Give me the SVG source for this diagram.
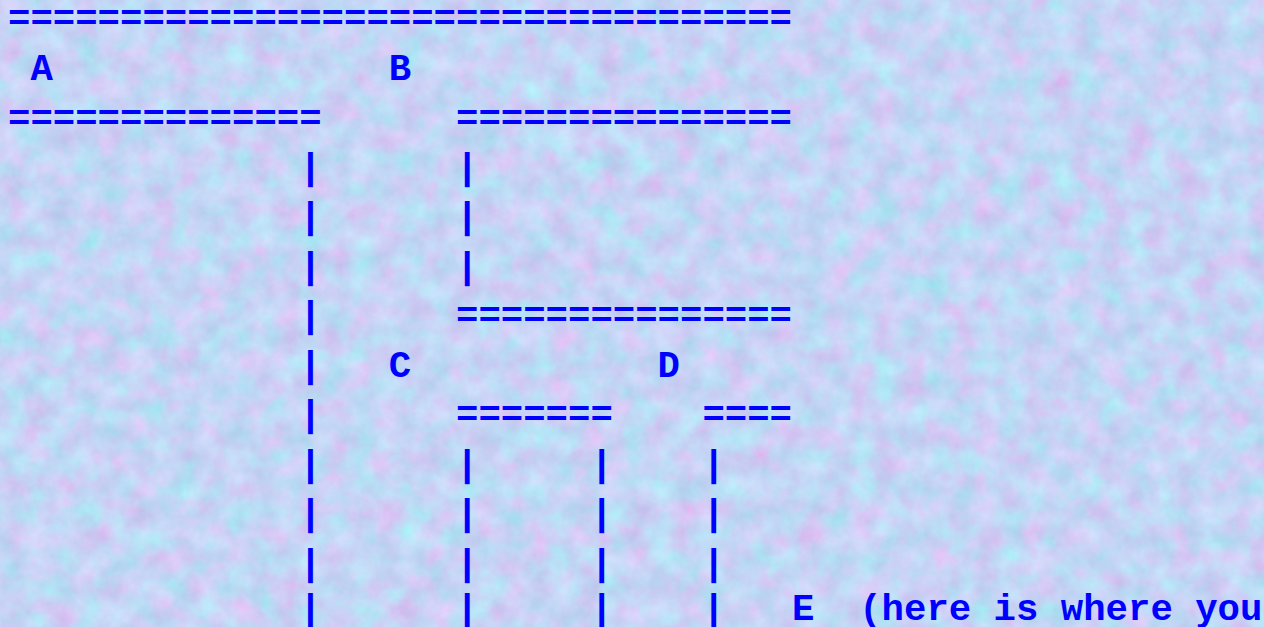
<svg xmlns="http://www.w3.org/2000/svg" width="1264" height="627" viewBox="0 0 1264 627">
<defs>
<filter id="tex" x="0" y="0" width="100%" height="100%" color-interpolation-filters="sRGB">
<feTurbulence type="fractalNoise" baseFrequency="0.04" numOctaves="4" seed="7" result="n"/>
<feColorMatrix in="n" type="matrix" values="0.18 -0.18 0.12 0 0.71  -0.14 0.14 0.12 0 0.775  0 0 0.08 0 0.92  0 0 0 0 1"/>
</filter>
<style>
.t{font-family:"Liberation Mono","Courier New",monospace;font-weight:bold;font-size:37.33px;fill:#0000ff;white-space:pre}
</style>
</defs>
<rect width="1264" height="627" fill="#c7d5f5"/>
<rect width="1264" height="627" filter="url(#tex)"/>
<g id="connectors" class="t">
<text x="8" y="30.3">===================================</text>
<text x="8" y="129.8">==============</text>
<text x="456" y="129.8">===============</text>
<text x="299.2" y="179">|</text>
<text x="299.2" y="228">|</text>
<text x="299.2" y="277.5">|</text>
<text x="299.2" y="327.3">|</text>
<text x="299.2" y="377">|</text>
<text x="299.2" y="426.3">|</text>
<text x="299.2" y="476">|</text>
<text x="299.2" y="525">|</text>
<text x="299.2" y="575">|</text>
<text x="299.2" y="620">|</text>
<text x="456" y="179">|</text>
<text x="456" y="228">|</text>
<text x="456" y="277.5">|</text>
<text x="456" y="327.3">===============</text>
<text x="456" y="426.3">=======</text>
<text x="702.4" y="426.3">====</text>
<text x="456" y="476">|</text>
<text x="456" y="525">|</text>
<text x="456" y="575">|</text>
<text x="456" y="620">|</text>
<text x="590.4" y="476">|</text>
<text x="590.4" y="525">|</text>
<text x="590.4" y="575">|</text>
<text x="590.4" y="620">|</text>
<text x="702.4" y="476">|</text>
<text x="702.4" y="525">|</text>
<text x="702.4" y="575">|</text>
<text x="702.4" y="620">|</text>
</g>
<g id="node-A" class="t"><text x="30.4" y="80">A</text></g>
<g id="node-B" class="t"><text x="388.8" y="80">B</text></g>
<g id="node-C" class="t"><text x="388.8" y="377">C</text></g>
<g id="node-D" class="t"><text x="657.6" y="377">D</text></g>
<g id="node-E" class="t"><text x="792" y="620">E</text><text x="859.2" y="620">(here is where you</text></g>
</svg>
